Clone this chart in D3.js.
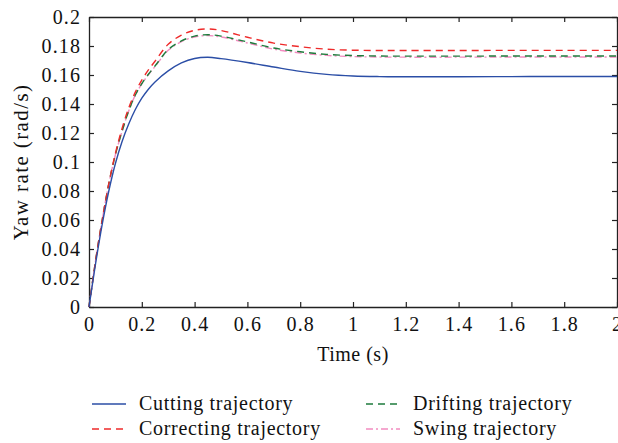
<!DOCTYPE html>
<html><head><meta charset="utf-8">
<script src="https://cdn.jsdelivr.net/npm/d3@7"></script>
<style>body{margin:0;background:#fff;} text{font-family:"Liberation Serif","DejaVu Serif",serif;}</style>
</head><body><svg id="c" width="618" height="443"></svg>
<script>
const time = [0,0.025,0.05,0.075,0.1,0.125,0.15,0.175,0.2,0.225,0.25,0.3,0.35,0.4,0.45,0.5,0.6,0.7,0.8,0.9,1.0,1.1,1.2,1.4,1.6,1.8,2.0];
const cutting    = [0,0.030,0.057,0.080,0.099,0.114,0.126,0.136,0.1440,0.1502,0.1552,0.1628,0.1683,0.1714,0.1722,0.1713,0.1686,0.1655,0.1625,0.1604,0.1593,0.1589,0.1588,0.1588,0.1589,0.1590,0.1590];
const correcting = [0,0.032,0.060,0.085,0.106,0.123,0.137,0.148,0.1565,0.1635,0.1695,0.1812,0.1875,0.1908,0.1918,0.1907,0.1860,0.1820,0.1795,0.1778,0.1771,0.1769,0.1769,0.1769,0.1770,0.1770,0.1770];
const drifting   = [0,0.032,0.060,0.085,0.105,0.121,0.135,0.146,0.1540,0.1605,0.1662,0.1775,0.1835,0.1868,0.1878,0.1868,0.1828,0.1786,0.1760,0.1742,0.1734,0.1731,0.1730,0.1730,0.1731,0.1731,0.1731];
const swing      = [0,0.032,0.060,0.085,0.105,0.121,0.135,0.146,0.1538,0.1602,0.1658,0.1770,0.1830,0.1862,0.1872,0.1862,0.1821,0.1778,0.1752,0.1735,0.1727,0.1724,0.1723,0.1723,0.1724,0.1724,0.1724];
const xTicks = [0,0.2,0.4,0.6,0.8,1,1.2,1.4,1.6,1.8,2];
const yTicks = [0,0.02,0.04,0.06,0.08,0.1,0.12,0.14,0.16,0.18,0.2];
const seriesNames = ["Cutting trajectory","Correcting trajectory","Drifting trajectory","Swing trajectory"];

const styles = [
  {color:"#2b4ea6", dash:null},
  {color:"#ee2a2a", dash:"7,5"},
  {color:"#1e7b3c", dash:"7,5"},
  {color:"#f28cc0", dash:"7,3,2,3"}
];
const seriesData = [cutting, correcting, drifting, swing];

const svg = d3.select("#c");
const L=89, R=617, T=17, B=307;
const x = d3.scaleLinear().domain([0,2]).range([L,R]);
const y = d3.scaleLinear().domain([0,0.2]).range([B,T]);

const fmt = d => String(+d.toFixed(2));
const tl = 5;
const g = svg.append("g");
g.append("g").attr("transform",`translate(0,${B})`)
  .call(d3.axisBottom(x).tickValues(xTicks).tickFormat(fmt).tickSizeInner(-tl).tickSizeOuter(0).tickPadding(10));
g.append("g").attr("transform",`translate(0,${T})`)
  .call(d3.axisTop(x).tickValues(xTicks).tickFormat("").tickSizeInner(-tl).tickSizeOuter(0));
g.append("g").attr("transform",`translate(${L},0)`)
  .call(d3.axisLeft(y).tickValues(yTicks).tickFormat(fmt).tickSizeInner(-tl).tickSizeOuter(0).tickPadding(8));
g.append("g").attr("transform",`translate(${R},0)`)
  .call(d3.axisRight(y).tickValues(yTicks).tickFormat("").tickSizeInner(-tl).tickSizeOuter(0));
g.selectAll(".domain").attr("stroke","#222").attr("stroke-width",1.3);
g.selectAll(".tick line").attr("stroke","#222").attr("stroke-width",1.2);
g.selectAll(".tick text").attr("font-size",20).attr("letter-spacing",1.1).attr("fill","#111").attr("font-family","Liberation Serif, serif");

const line = d3.line().x((d,i)=>x(time[i])).y(d=>y(d)).curve(d3.curveCatmullRom.alpha(0.5));
[3,2,1,0].forEach(i=>{
  svg.append("path").datum(seriesData[i]).attr("d",line)
    .attr("fill","none").attr("stroke",styles[i].color).attr("stroke-width",1.4)
    .attr("stroke-dasharray",styles[i].dash);
});

svg.append("text").attr("x",353).attr("y",361).attr("text-anchor","middle")
  .attr("font-size",20).attr("letter-spacing",0.5).attr("fill","#111").text("Time (s)");
svg.append("text").attr("transform",`translate(28,${(T+B)/2}) rotate(-90)`).attr("text-anchor","middle")
  .attr("font-size",21).attr("letter-spacing",1.4).attr("fill","#111").text("Yaw rate (rad/s)");

const legPos = [[92,404],[92,429],[366,404],[366,429]];
seriesNames.forEach((n,i)=>{
  const [lx,ly]=legPos[i];
  svg.append("line").attr("x1",lx).attr("x2",lx+34).attr("y1",ly).attr("y2",ly)
    .attr("stroke",styles[i].color).attr("stroke-width",1.4).attr("stroke-dasharray",styles[i].dash);
  svg.append("text").attr("x",lx+47).attr("y",ly+6).attr("font-size",20).attr("letter-spacing",0.7).attr("fill","#111").text(n);
});
</script></body></html>
